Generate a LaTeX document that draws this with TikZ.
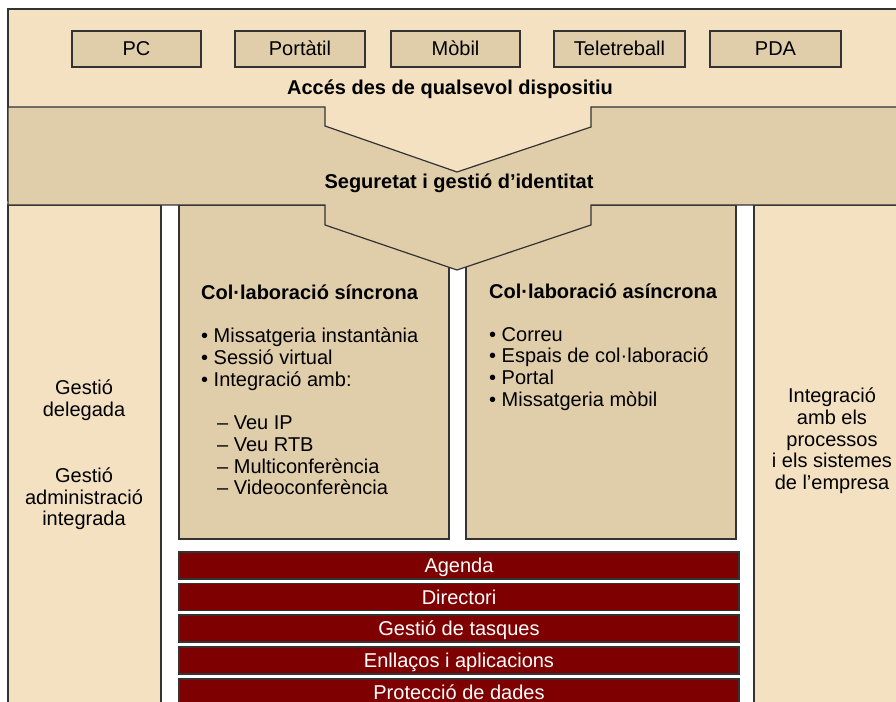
\documentclass[tikz,border=0pt]{standalone}
\usepackage{fontspec}
\usepackage{tikz}
\setmainfont{Liberation Sans}

\definecolor{clar}{HTML}{F3E1C2}
\definecolor{fosc}{HTML}{E0CDAA}
\definecolor{granat}{HTML}{7F0000}
\definecolor{vora}{HTML}{333333}

\newcommand{\lletra}{\fontsize{20}{21.7}\selectfont}

\tikzset{
  caixa/.style={draw=vora, line width=1.2pt},
  dispositiu/.style={caixa, fill=fosc, minimum height=36pt, inner sep=0pt,
    text height=15pt, text depth=1pt},
  barra/.style={draw=black!80, line width=1.1pt, fill=granat, text=white,
    minimum width=560pt, minimum height=27pt, inner sep=0pt,
    text height=15pt, text depth=1pt},
  titol/.style={font=\lletra\bfseries, inner sep=0pt},
  llista/.style={align=left, anchor=north west, inner sep=0pt},
}

\begin{document}
\begin{tikzpicture}[x=1pt, y=-1pt, font=\lletra]

\useasboundingbox (0,0) rectangle (896,701);
\clip (0,0) rectangle (896,701);
\fill[white] (0,0) rectangle (896,701);

% Franja superior (accés)
\draw[caixa, fill=clar] (8,9) rectangle (905,200);

% Columnes laterals i blocs de col·laboració
\draw[caixa, fill=clar] (8,205) rectangle (161,710);
\draw[caixa, fill=clar] (754,205) rectangle (905,710);
\draw[caixa, fill=fosc] (179,205) rectangle (449,539);
\draw[caixa, fill=fosc] (466,205) rectangle (736,539);

% Franja de seguretat (amb les puntes)
\draw[caixa, fill=fosc] (8,107) -- (325,107) -- (325,126) -- (457,172) -- (591,127)
  -- (591,107) -- (905,107) -- (905,205) -- (591,205) -- (591,225) -- (457,270)
  -- (325,225) -- (325,205) -- (8,205) -- cycle;

% Dispositius
\node[dispositiu, minimum width=129pt] (pc) at (136.5,49) {PC};
\node[dispositiu, minimum width=130pt] (portatil) at (300,49) {Portàtil};
\node[dispositiu, minimum width=129pt] (mobil) at (455.5,49) {Mòbil};
\node[dispositiu, minimum width=131pt] (teletreball) at (619.5,49) {Teletreball};
\node[dispositiu, minimum width=131pt] (pda) at (775.5,49) {PDA};

\node[titol] (acces) at (450,89) {Accés des de qualsevol dispositiu};
\node[titol] (seguretat) at (459,183) {Seguretat i gestió d’identitat};

% Col·laboració síncrona
\node[titol, anchor=base west] (sincrona) at (201,299) {Col·laboració síncrona};
\node[llista] (llsincrona) at (201,328) {• Missatgeria instantània\\
  • Sessió virtual\\
  • Integració amb:\\[21.7pt]
  \hspace*{16pt}– Veu IP\\
  \hspace*{16pt}– Veu RTB\\
  \hspace*{16pt}– Multiconferència\\
  \hspace*{16pt}– Videoconferència};

% Col·laboració asíncrona
\node[titol, anchor=base west] (asincrona) at (489,298) {Col·laboració asíncrona};
\node[llista] (llasincrona) at (489,327) {• Correu\\
  • Espais de col·laboració\\
  • Portal\\
  • Missatgeria mòbil};

% Columnes laterals
\node[align=center] (delegada) at (84,400.5) {Gestió\\delegada};
\node[align=center] (administracio) at (84,499) {Gestió\\administració\\integrada};
\node[align=center] (integracio) at (832,441) {Integració\\amb els\\processos\\i els sistemes\\de l’empresa};

% Serveis comuns
\node[barra] (agenda) at (459,565.5) {Agenda};
\node[barra] (directori) at (459,597) {Directori};
\node[barra] (tasques) at (459,628.5) {Gestió de tasques};
\node[barra] (enllacos) at (459,660.5) {Enllaços i aplicacions};
\node[barra] (proteccio) at (459,692.5) {Protecció de dades};

\end{tikzpicture}
\end{document}
